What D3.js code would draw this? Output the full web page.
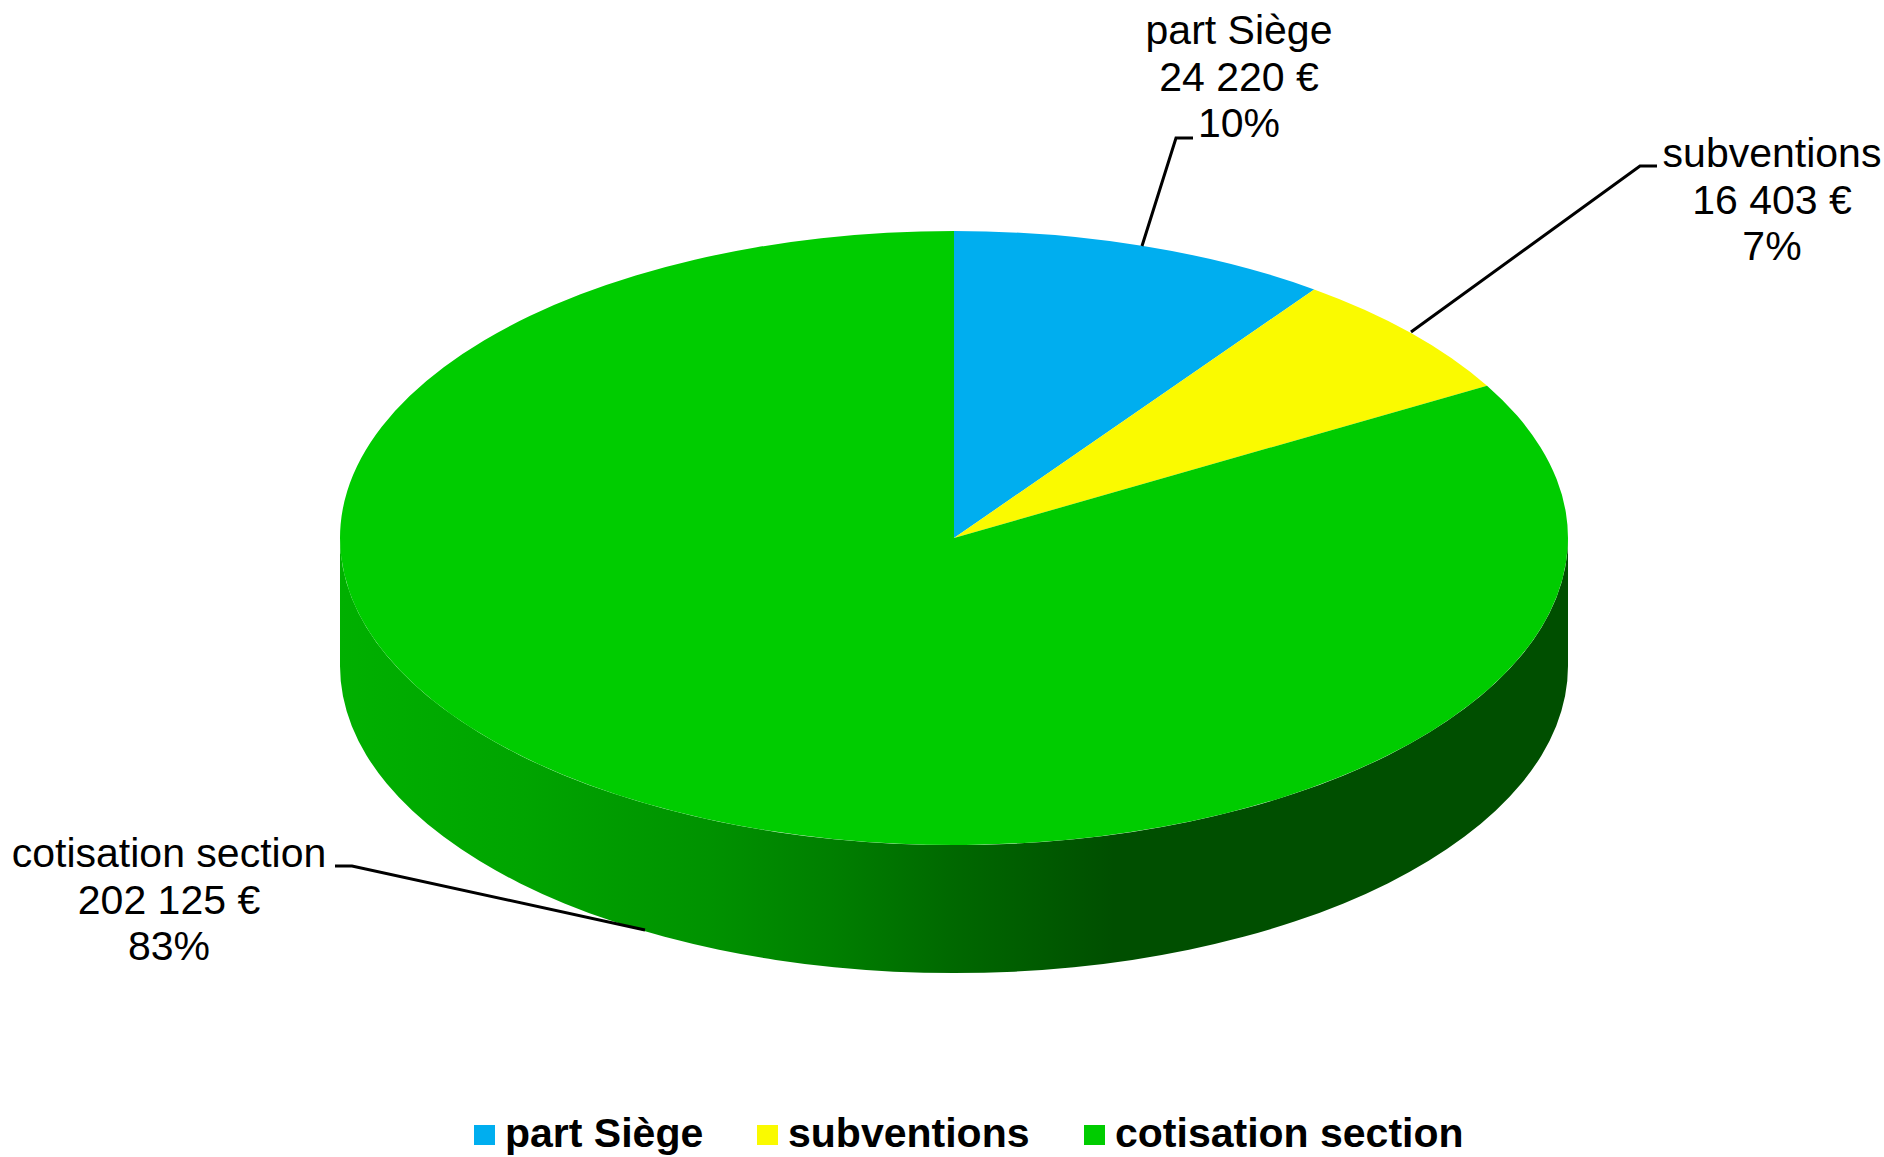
<!DOCTYPE html>
<html><head><meta charset="utf-8">
<script src="https://d3js.org/d3.v7.min.js"></script>
<style>html,body{margin:0;background:#fff}svg{display:block}text{font-family:"Liberation Sans",Arial,sans-serif;fill:#000}</style>
</head><body><svg id="c" width="1884" height="1157"></svg>
<script>
const categories=["part Siège","subventions","cotisation section"];
const values=[24220,16403,202125];
const valueLabels=["24 220 €","16 403 €","202 125 €"];
const pctLabels=["10%","7%","83%"];
const colors=["#00AEEF","#FAFA00","#00CC00"];
const sideStops=[[0,"#00b000"],[0.15,"#00a400"],[0.3,"#009200"],[0.4,"#007f00"],[0.5,"#006800"],[0.63,"#004f00"],[1,"#004f00"]];
const labelLeaders=[[[1193,138],[1176,138],[1142,246]],[[1657,166],[1640,166],[1411,332]],[[335,866],[352,866],[645,930]]];
const labelPos=[[1239,44],[1772,167],[169,867]];
const W=1884,H=1157,cx=954,cy=538,rx=614,ratio=0.5,depth=128;
const svg=d3.select("#c");
const grad=svg.append("defs").append("linearGradient").attr("id","side");
sideStops.forEach(s=>grad.append("stop").attr("offset",s[0]).attr("stop-color",s[1]));
const pie=d3.pie().sort(null).startAngle(0).endAngle(2*Math.PI);
const arcs=pie(values);
const arc=d3.arc().innerRadius(0).outerRadius(rx);
const g=svg.append("g").attr("transform",`translate(${cx},${cy}) scale(1,${ratio})`);
const p=d3.path();
p.arc(0,0,rx,0,Math.PI,false);
p.lineTo(-rx,depth/ratio);
p.arc(0,depth/ratio,rx,Math.PI,0,true);
p.closePath();
g.append("path").attr("d",p.toString()).attr("fill","url(#side)");
g.selectAll("path.s").data(arcs).enter().append("path").attr("class","s").attr("d",arc).attr("fill",(d,i)=>colors[i]);
labelLeaders.forEach(l=>svg.append("path").attr("d",d3.line()(l)).attr("fill","none").attr("stroke","#000").attr("stroke-width",3));
categories.forEach((c,i)=>{
  const t=svg.append("text").attr("text-anchor","middle").attr("font-size",41);
  [c,valueLabels[i],pctLabels[i]].forEach((s,j)=>t.append("tspan").attr("x",labelPos[i][0]).attr("y",labelPos[i][1]+j*46.5).text(s));
});
const legendX=[474,757,1084],legendTextX=[505,788,1115];
categories.forEach((c,i)=>{
  svg.append("rect").attr("x",legendX[i]).attr("y",1125).attr("width",21).attr("height",20).attr("fill",colors[i]);
  svg.append("text").attr("x",legendTextX[i]).attr("y",1147).attr("font-size",41).attr("font-weight","bold").text(c);
});
</script></body></html>
